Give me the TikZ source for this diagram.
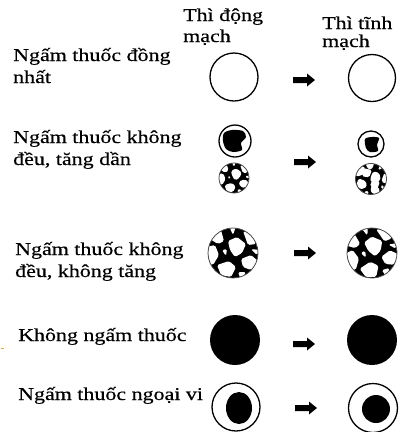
\documentclass[tikz,border=0pt]{standalone}
\usepackage{fontspec}
\setmainfont[FakeStretch=1.22,FakeBold=0.35]{Liberation Serif}
\begin{document}
\begin{tikzpicture}[x=1pt,y=-1pt,
  lbl/.style={anchor=base west,inner sep=0pt,font=\fontsize{18}{22}\selectfont},
  ringline/.style={draw=black,line width=1.3pt},
  cellfill/.style={fill=white,rounded corners=1.6pt},
  blockarrow/.pic={\fill[black] (0,-3) -- (14,-3) -- (14,-6.5) -- (22,0) -- (14,6.5) -- (14,3) -- (0,3) -- cycle;}
]
\useasboundingbox (0,0) rectangle (399,432);

% white cells of a spongy (heterogeneous) lesion, radius-25 frame
\newcommand\spongecells{%
  \fill[cellfill] (-23,-14) -- (-12,-23) -- (-9,-12) -- (-15,-9) -- cycle;
  \fill[cellfill] (-27,-6) -- (-18,-8) -- (-14,2) -- (-20,12) -- (-27,10) -- cycle;
  \fill[cellfill] (-5,-12) -- (4,-16) -- (13,-9) -- (9,0) -- (2,4) -- (-3,-3) -- cycle;
  \fill[cellfill] (-16,12) -- (-4,8) -- (3,14) -- (-2,24) -- (-12,22) -- cycle;
  \fill[cellfill] (8,6) -- (18,2) -- (25,8) -- (18,17) -- (10,14) -- cycle;
  \fill[cellfill] (10,-22) -- (20,-18) -- (23,-9) -- (15,-8) -- cycle;
  \fill[cellfill] (-4,-27) -- (3,-27) -- (0,-18) -- cycle;
  \fill[cellfill] (-11,-3) -- (-6,-4) -- (-7,3) -- cycle;
  \fill[cellfill] (18,-4) -- (27,-3) -- (24,2) -- cycle;
  \fill[cellfill] (5,19) -- (13,19) -- (8,27) -- cycle;
}
% larger openings for the late-phase small lesion
\newcommand\opencells{%
  \fill[cellfill] (-20,-6) -- (-8,-12) -- (-4,0) -- (-14,6) -- cycle;
  \fill[cellfill] (2,-2) -- (14,-6) -- (18,6) -- (6,10) -- cycle;
}
% one spongy disc: centre, rotation, scale, extra cells
\newcommand\spongedisc[4]{%
  \begin{scope}[shift={#1},rotate=#2,scale=#3]
    \begin{scope}
      \clip (0,0) circle[radius=25];
      \fill[black] (0,0) circle[radius=25];
      \spongecells
      #4
    \end{scope}
    \draw[black!70,line width=0.8pt] (0,0) circle[radius=25];
  \end{scope}}

% column headers
\node[lbl] (hArt)  at (183,21) {Thì động};
\node[lbl] (hArt2) at (183,42) {mạch};
\node[lbl] (hVen)  at (322,29) {Thì tĩnh};
\node[lbl] (hVen2) at (322,47) {mạch};

% row labels
\node[lbl] (l1a) at (13,61)  {Ngấm thuốc đồng};
\node[lbl] (l1b) at (13,83)  {nhất};
\node[lbl] (l2a) at (13,143) {Ngấm thuốc không};
\node[lbl] (l2b) at (13,165) {đều, tăng dần};
\node[lbl] (l3a) at (15,255) {Ngấm thuốc không};
\node[lbl] (l3b) at (15,277) {đều, không tăng};
\node[lbl] (l4)  at (18,341) {Không ngấm thuốc};
\node[lbl] (l5)  at (18,400) {Ngấm thuốc ngoại vi};

% row 1: homogeneous enhancement
\draw[ringline] (234,77) circle[radius=24];
\draw[ringline] (372,78) circle[radius=23.5];
\pic at (293,80) {blockarrow};

% row 2: heterogeneous, increasing
\draw[ringline] (235,141) circle[radius=16];
\fill[black] plot[smooth cycle] coordinates {(224,133) (232,130) (243,131) (246,137) (241,143) (242,150) (233,152) (226,149) (223,141)};
\draw[ringline] (371,144) circle[radius=13];
\fill[black] plot[smooth cycle] coordinates {(365,139) (372,137) (379,138) (377,145) (378,151) (370,152) (366,148)};
\spongedisc{(234,178)}{0}{0.6}{}
\spongedisc{(371,179)}{-40}{0.62}{\opencells}
\pic at (294,162) {blockarrow};

% row 3: heterogeneous, not increasing
\spongedisc{(233,253)}{0}{1}{}
\spongedisc{(372,253)}{15}{1}{}
\pic at (294,253) {blockarrow};

% row 4: no enhancement
\fill[black] (235,340) circle[radius=25];
\fill[black] (372,340) circle[radius=25];
\pic at (293,344) {blockarrow};

% row 5: peripheral enhancement
\draw[ringline] (236,407) circle[radius=24];
\fill[black] (239,408) ellipse[x radius=13,y radius=16];
\draw[ringline] (373,408) circle[radius=24.5];
\fill[black] (376,409) circle[radius=14];
\pic at (295,408) {blockarrow};

% stray mark at the left edge
\fill[orange!70!yellow] (1,347.5) rectangle (4,348.6);
\end{tikzpicture}
\end{document}
